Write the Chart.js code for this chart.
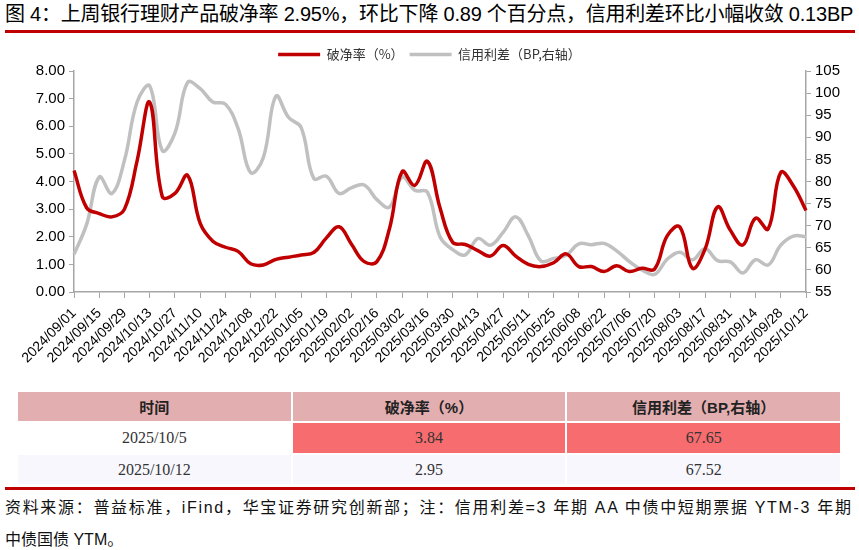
<!DOCTYPE html>
<html>
<head>
<meta charset="utf-8">
<script src="https://cdn.jsdelivr.net/npm/chart.js@4.4.1/dist/chart.umd.min.js"></script>
<style>
  html, body { margin: 0; padding: 0; background: #fff; }
  body { width: 859px; height: 550px; position: relative; overflow: hidden;
         font-family: "Liberation Sans", "Noto Sans CJK SC", sans-serif; color: #000; }
  #title { position: absolute; left: 5px; top: 2px; font-size: 20px; white-space: nowrap; line-height: 25px; }
  .rule { position: absolute; left: 5px; width: 850px; height: 3px; background: #C00000; }
  #box { position: absolute; left: 0; top: 42px; width: 859px; height: 343px; }
  table { position: absolute; left: 16px; top: 390px; width: 826px; border-collapse: collapse; table-layout: fixed;
          font-family: "Liberation Serif", "Noto Sans CJK SC", serif; font-size: 16px; color: #333; }
  td, th { border: 2px solid #fff; text-align: center; padding: 0; }
  th { background: #E3AEB0; height: 29px; font-family: "Liberation Sans", "Noto Sans CJK SC", sans-serif; font-size: 15px; color: #222; }
  tr.r1 td { height: 30px; }
  tr.r1 td.hot { background: #F76C6E; }
  tr.r2 td { height: 29px; background: #F8F7FD; }
  .foot { position: absolute; left: 5px; font-size: 16px; white-space: nowrap; color: #111; }
</style>
</head>
<body>
<div id="title">图 4：上周银行理财产品破净率 2.95%，环比下降 0.89 个百分点，信用利差环比小幅收敛 0.13BP</div>
<div class="rule" style="top:30px"></div>
<div id="box"><canvas id="c" width="859" height="343"></canvas></div>
<table>
  <tr><th>时间</th><th>破净率（%）</th><th>信用利差（BP,右轴）</th></tr>
  <tr class="r1"><td>2025/10/5</td><td class="hot">3.84</td><td class="hot">67.65</td></tr>
  <tr class="r2"><td>2025/10/12</td><td>2.95</td><td>67.52</td></tr>
</table>
<div class="rule" style="top:487px"></div>
<div class="foot" id="f1" style="top:494px">资料来源：普益标准，iFind，华宝证券研究创新部；注：信用利差=3 年期 AA 中债中短期票据 YTM-3 年期</div>
<div class="foot" style="top:526px">中债国债 YTM。</div>
<script>
const WEEKS = [
  "2024/09/01","2024/09/08","2024/09/15","2024/09/22","2024/09/29","2024/10/06","2024/10/13","2024/10/20",
  "2024/10/27","2024/11/03","2024/11/10","2024/11/17","2024/11/24","2024/12/01","2024/12/08","2024/12/15",
  "2024/12/22","2024/12/29","2025/01/05","2025/01/12","2025/01/19","2025/01/26","2025/02/02","2025/02/09",
  "2025/02/16","2025/02/23","2025/03/02","2025/03/09","2025/03/16","2025/03/23","2025/03/30","2025/04/06",
  "2025/04/13","2025/04/20","2025/04/27","2025/05/04","2025/05/11","2025/05/18","2025/05/25","2025/06/01",
  "2025/06/08","2025/06/15","2025/06/22","2025/06/29","2025/07/06","2025/07/13","2025/07/20","2025/07/27",
  "2025/08/03","2025/08/10","2025/08/17","2025/08/24","2025/08/31","2025/09/07","2025/09/14","2025/09/21",
  "2025/09/28","2025/10/05","2025/10/12"
];
// 破净率 (%), left axis
const BREAK_RATE = [
  4.40, 3.05, 2.84, 2.72, 3.00, 4.75, 6.87, 3.45, 3.57, 4.22,
  2.48, 1.84, 1.62, 1.47, 1.02, 0.98, 1.18, 1.26, 1.34, 1.43,
  1.96, 2.36, 1.72, 1.10, 1.10, 2.30, 4.36, 3.86, 4.73, 3.05,
  1.80, 1.72, 1.50, 1.30, 1.68, 1.30, 1.00, 0.92, 1.06, 1.38,
  0.92, 0.92, 0.74, 0.95, 0.74, 0.86, 0.83, 2.03, 2.36, 0.86,
  1.55, 3.08, 2.24, 1.70, 2.67, 2.28, 4.33, 3.84, 2.95
];
// 信用利差 (BP), right axis
const SPREAD = [
  63.5, 70.3, 81.0, 77.3, 84.8, 98.0, 101.6, 87.0, 91.0, 102.4,
  101.0, 98.0, 97.5, 92.0, 82.0, 85.4, 99.3, 94.5, 92.2, 80.7,
  81.2, 77.3, 78.6, 79.2, 75.9, 74.2, 81.0, 78.0, 77.6, 67.5,
  64.6, 63.4, 67.1, 65.6, 68.5, 72.0, 67.7, 62.0, 62.6, 63.3,
  65.9, 65.7, 66.0, 64.3, 61.9, 60.0, 59.0, 62.4, 64.0, 62.3,
  64.8, 62.1, 61.8, 59.3, 62.3, 61.1, 65.6, 67.65, 67.52
];
const LEFT_MIN = 0, LEFT_MAX = 8, LEFT_STEP = 1;
const RIGHT_MIN = 55, RIGHT_MAX = 105, RIGHT_STEP = 5;

const RED = "#C00000", GRAY = "#C0C0C0", AXIS = "#A6A6A6";

// stretch a line of text to a given width
function fit(id, w) {
  const el = document.getElementById(id);
  const n = el.textContent.length;
  el.style.letterSpacing = ((w - el.scrollWidth) / n) + "px";
}
fit("title", 848);
fit("f1", 848);

const axisGrid = { drawOnChartArea: false, drawTicks: true, tickLength: 5, color: AXIS, lineWidth: 1 };
const axisBorder = { color: AXIS, width: 1.5 };
const tickFont = { family: "'Liberation Sans', Arial, sans-serif", size: 15 };

new Chart(document.getElementById("c"), {
  type: "line",
  data: {
    labels: WEEKS,
    datasets: [
      { label: "破净率（%）", data: BREAK_RATE, yAxisID: "y", borderColor: RED, backgroundColor: RED,
        borderWidth: 3.5, pointRadius: 0, tension: 0.4 },
      { label: "信用利差（BP,右轴）", data: SPREAD, yAxisID: "y1", borderColor: GRAY, backgroundColor: GRAY,
        borderWidth: 3.5, pointRadius: 0, tension: 0.4 }
    ]
  },
  options: {
    responsive: false, animation: false,
    layout: { padding: 0 },
    plugins: {
      tooltip: { enabled: false },
      legend: {
        labels: {
          usePointStyle: true, pointStyle: "line", pointStyleWidth: 42, boxHeight: 10,
          padding: 6, color: "#333",
          font: { family: "'Noto Sans CJK SC', sans-serif", size: 13 }
        }
      }
    },
    scales: {
      x: {
        grid: { ...axisGrid, tickLength: 6 }, border: axisBorder,
        ticks: {
          autoSkip: false, minRotation: 45, maxRotation: 45, padding: 7, color: "#000",
          font: { family: "'Liberation Sans', Arial, sans-serif", size: 14 },
          callback: (v, i) => i % 2 === 0 ? WEEKS[i] : null
        },
        afterFit: s => { s.height = 93; }
      },
      y: {
        position: "left", min: LEFT_MIN, max: LEFT_MAX,
        grid: axisGrid, border: axisBorder,
        ticks: { stepSize: LEFT_STEP, color: "#000", font: tickFont, padding: 4, callback: v => v.toFixed(2) },
        afterFit: s => { s.width = 74; }
      },
      y1: {
        position: "right", min: RIGHT_MIN, max: RIGHT_MAX,
        grid: axisGrid, border: axisBorder,
        ticks: { stepSize: RIGHT_STEP, color: "#000", font: tickFont, padding: 4 },
        afterFit: s => { s.width = 53; }
      }
    }
  }
});
</script>
</body>
</html>
